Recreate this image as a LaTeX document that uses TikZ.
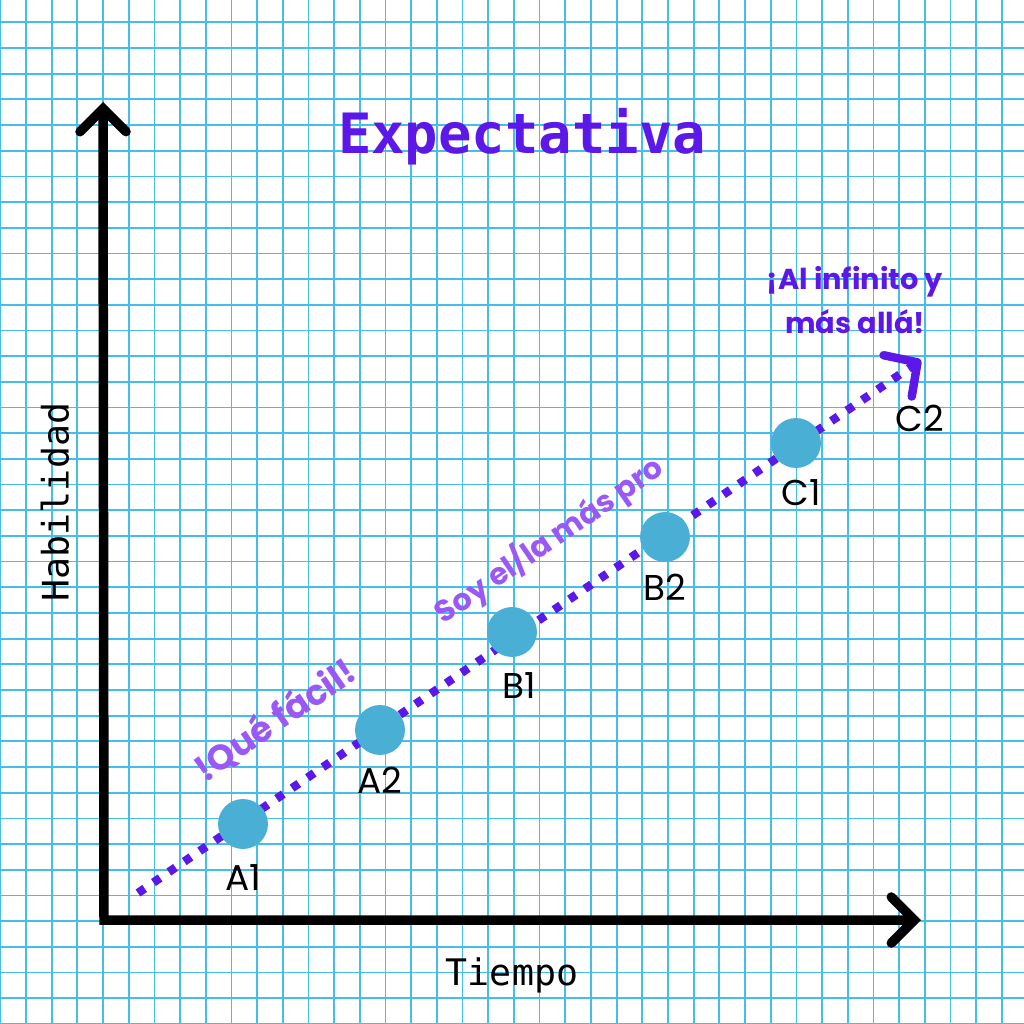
\documentclass[tikz,border=0pt]{standalone}
\usepackage{fontspec}
\usepackage{xcolor}
\usetikzlibrary{positioning,arrows.meta}
\newfontfamily\poppins{Poppins}
\newfontfamily\monofont{DejaVu Sans Mono}
\definecolor{cuadro}{RGB}{70,190,236}
\definecolor{morado}{RGB}{92,24,232}
\definecolor{lila}{RGB}{154,88,246}
\definecolor{bola}{RGB}{74,175,213}
\tikzset{
  punto/.style={circle, fill=bola, minimum size=14.2pt, inner sep=0pt},
  etiqueta/.style={font=\poppins\fontsize{10.2}{12}\selectfont, inner sep=1pt},
  nota/.style={font=\poppins\bfseries\fontsize{10}{12}\selectfont, text=lila, rotate=34.5},
}
\begin{document}
\begin{tikzpicture}[x=0.01cm, y=-0.01cm]
    \useasboundingbox[fill=white] (0,0) rectangle (1024,1024);
    \foreach \k in {-1,...,39} {
        \draw[cuadro, line width=0.5pt] ({26+25.68*\k},0) -- ({26+25.68*\k},1024);
        \draw[cuadro, line width=0.5pt] (0,{22.3+25.68*\k}) -- (1024,{22.3+25.68*\k});
    }
    \coordinate (origen) at (104,920);
    \coordinate (ytip) at (103,102);
    \coordinate (xtip) at (921,920);
    \draw[line width=2.7pt, line join=miter, {Straight Barb[length=2.3mm, width=4.6mm, line cap=round]}-{Straight Barb[length=2.3mm, width=4.6mm, line cap=round]}]
        (ytip) -- (origen) -- (xtip);
    \coordinate (inicio) at (138,893);
    \coordinate (fin) at (921,360);
    \draw[morado, line width=2.4pt, dash pattern=on 2.3pt off 3pt,
        -{Straight Barb[length=2.4mm, width=5mm, line cap=round, line join=round]}]
        (inicio) -- (fin);
    \node[punto] (A1) at (243,824) {};
    \node[punto] (A2) at (380,730) {};
    \node[punto] (B1) at (512,632) {};
    \node[punto] (B2) at (665,537) {};
    \node[punto] (C1) at (796,443) {};
    \node[etiqueta, below=3pt of A1] {A1};
    \node[etiqueta, below=2pt of A2] {A2};
    \node[etiqueta, below=3pt of B1, xshift=2pt] {B1};
    \node[etiqueta, below=2pt of B2] {B2};
    \node[etiqueta, below=2pt of C1, xshift=1.5pt] {C1};
    \node[etiqueta] (C2) at (920,418) {C2};
    \node[font=\monofont\bfseries\fontsize{15.8}{18}\selectfont, text=morado] (titulo) at (522,137) {Expectativa};
    \node[font=\monofont\fontsize{10.4}{12}\selectfont] (tiempo) at (512,975) {Tiempo};
    \node[font=\monofont\fontsize{10.4}{12}\selectfont, rotate=90] (habilidad) at (55,502) {Habilidad};
    \node[font=\poppins\bfseries\fontsize{8.2}{12.5}\selectfont, text=morado, align=center] (infinito) at (855,300) {¡Al infinito y\\más allá!};
    \node[nota] (facil) at (275,720) {!Qué fácil!};
    \node[nota, font=\poppins\bfseries\fontsize{8.6}{12}\selectfont] (pro) at (549,540) {Soy el/la más pro};
\end{tikzpicture}
\end{document}
